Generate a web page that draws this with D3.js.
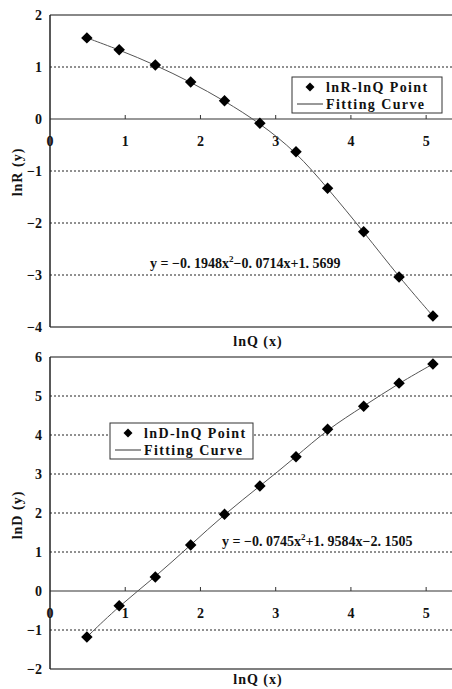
<!DOCTYPE html>
<html><head><meta charset="utf-8">
<script src="https://cdn.jsdelivr.net/npm/d3@7"></script>
<style>body{margin:0;background:#fff}svg{display:block}</style>
</head><body>
<script>
const lnQ = [0.49, 0.92, 1.40, 1.87, 2.32, 2.79, 3.27, 3.69, 4.17, 4.64, 5.09];
const lnR = [1.56, 1.33, 1.04, 0.71, 0.35, -0.08, -0.63, -1.33, -2.17, -3.04, -3.79];
const lnD = [-1.18, -0.38, 0.36, 1.18, 1.97, 2.69, 3.44, 4.15, 4.74, 5.33, 5.82];
const xTicks = [0, 1, 2, 3, 4, 5];
const yTicksR = [2, 1, 0, -1, -2, -3, -4];
const yTicksD = [6, 5, 4, 3, 2, 1, 0, -1, -2];

const W = 452, H = 689;
const svg = d3.select("body").append("svg").attr("width", W).attr("height", H);
const serifFont = "'Liberation Serif', 'DejaVu Serif', serif";

function panel(opts) {
  const g = svg.append("g");
  const x = d3.scaleLinear().domain([0, 5.45]).range([50, 460]);
  const y = d3.scaleLinear().domain(opts.yDomain).range([opts.top, opts.bottom]);
  opts.yTicks.forEach(t => {
    if (t === opts.yDomain[0] || t === opts.yDomain[1] || t === 0) return;
    g.append("line").attr("x1", x(0)).attr("x2", W).attr("y1", y(t)).attr("y2", y(t))
      .attr("stroke", "#222").attr("stroke-width", 1).attr("stroke-dasharray", "2,2");
  });
  g.append("line").attr("x1", x(0)).attr("x2", W).attr("y1", y(opts.yDomain[0])).attr("y2", y(opts.yDomain[0]))
    .attr("stroke", "#888").attr("stroke-width", 2);
  g.append("line").attr("x1", x(0)).attr("x2", W).attr("y1", y(opts.yDomain[1])).attr("y2", y(opts.yDomain[1]))
    .attr("stroke", "#555").attr("stroke-width", 1.5);
  g.append("line").attr("x1", x(0)).attr("x2", W).attr("y1", y(0)).attr("y2", y(0))
    .attr("stroke", "#333").attr("stroke-width", 1.2);
  xTicks.forEach(t => {
    if (t === 0) return;
    g.append("line").attr("x1", x(t)).attr("x2", x(t)).attr("y1", y(0) - 4).attr("y2", y(0))
      .attr("stroke", "#333").attr("stroke-width", 1);
  });
  g.append("line").attr("x1", x(0)).attr("x2", x(0)).attr("y1", y(opts.yDomain[0])).attr("y2", y(opts.yDomain[1]))
    .attr("stroke", "#222").attr("stroke-width", 1.5);
  opts.yTicks.forEach(t => {
    g.append("text").attr("x", 42).attr("y", y(t) + 5).attr("text-anchor", "end")
      .attr("font-family", serifFont).attr("font-weight", "bold").attr("font-size", 14)
      .attr("fill", "#111").text(t < 0 ? "\u2212" + Math.abs(t) : t);
  });
  xTicks.forEach(t => {
    g.append("text").attr("x", x(t)).attr("y", y(0) + 27).attr("text-anchor", "middle")
      .attr("font-family", serifFont).attr("font-weight", "bold").attr("font-size", 14)
      .attr("fill", "#111").text(t);
  });
  g.append("text").attr("x", 258).attr("y", opts.xTitleY).attr("text-anchor", "middle")
    .attr("font-family", serifFont).attr("font-weight", "bold").attr("font-size", 14)
    .attr("letter-spacing", 1).attr("fill", "#111").text("lnQ (x)");
  g.append("text").attr("transform", `translate(22,${opts.yTitleC}) rotate(-90)`).attr("text-anchor", "middle")
    .attr("font-family", serifFont).attr("font-weight", "bold").attr("font-size", 14)
    .attr("letter-spacing", 1).attr("fill", "#111").text(opts.yTitle);
  const pts = lnQ.map((q, i) => [q, opts.vals[i]]);
  g.append("path").datum(pts)
    .attr("d", d3.line().x(d => x(d[0])).y(d => y(d[1])).curve(d3.curveBasis))
    .attr("fill", "none").attr("stroke", "#555").attr("stroke-width", 1);
  g.selectAll(".pt").data(pts).enter().append("path")
    .attr("d", d3.symbol().type(d3.symbolSquare).size(66))
    .attr("transform", d => `translate(${x(d[0])},${y(d[1])}) rotate(45)`)
    .attr("fill", "#000");
  const L = opts.legend;
  g.append("rect").attr("x", L.x).attr("y", L.y).attr("width", L.w).attr("height", 36)
    .attr("fill", "#fff").attr("stroke", "#333").attr("stroke-width", 1);
  g.append("path").attr("d", d3.symbol().type(d3.symbolSquare).size(40))
    .attr("transform", `translate(${L.x + 18},${L.y + 10}) rotate(45)`).attr("fill", "#000");
  g.append("line").attr("x1", L.x + 5).attr("x2", L.x + 31).attr("y1", L.y + 27).attr("y2", L.y + 27)
    .attr("stroke", "#333").attr("stroke-width", 1);
  g.append("text").attr("x", L.x + 34).attr("y", L.y + 15)
    .attr("font-family", serifFont).attr("font-weight", "bold").attr("font-size", 14)
    .attr("letter-spacing", 1.4).attr("fill", "#111").text(opts.legendLabel);
  g.append("text").attr("x", L.x + 34).attr("y", L.y + 32)
    .attr("font-family", serifFont).attr("font-weight", "bold").attr("font-size", 14)
    .attr("letter-spacing", 1.4).attr("fill", "#111").text("Fitting Curve");
  const eq = g.append("text").attr("x", opts.eq.x).attr("y", opts.eq.y)
    .attr("font-family", serifFont).attr("font-weight", "bold").attr("font-size", 14).attr("fill", "#111");
  eq.append("tspan").text(opts.eq.a);
  eq.append("tspan").attr("font-size", 9).attr("dy", -6).text("2");
  eq.append("tspan").attr("dy", 6).text(opts.eq.b);
}

panel({
  yDomain: [2, -4], top: 15, bottom: 327, yTicks: yTicksR, vals: lnR,
  xTitleY: 346, yTitle: "lnR (y)", yTitleC: 172, legendLabel: "lnR-lnQ Point",
  legend: { x: 292, y: 77, w: 150 },
  eq: { x: 150, y: 268, a: "y = \u22120. 1948x", b: "\u22120. 0714x+1. 5699" }
});
panel({
  yDomain: [6, -2], top: 357, bottom: 669, yTicks: yTicksD, vals: lnD,
  xTitleY: 684, yTitle: "lnD (y)", yTitleC: 515, legendLabel: "lnD-lnQ Point",
  legend: { x: 110, y: 423, w: 143 },
  eq: { x: 222, y: 546, a: "y = \u22120. 0745x", b: "+1. 9584x\u22122. 1505" }
});
</script>
</body></html>
